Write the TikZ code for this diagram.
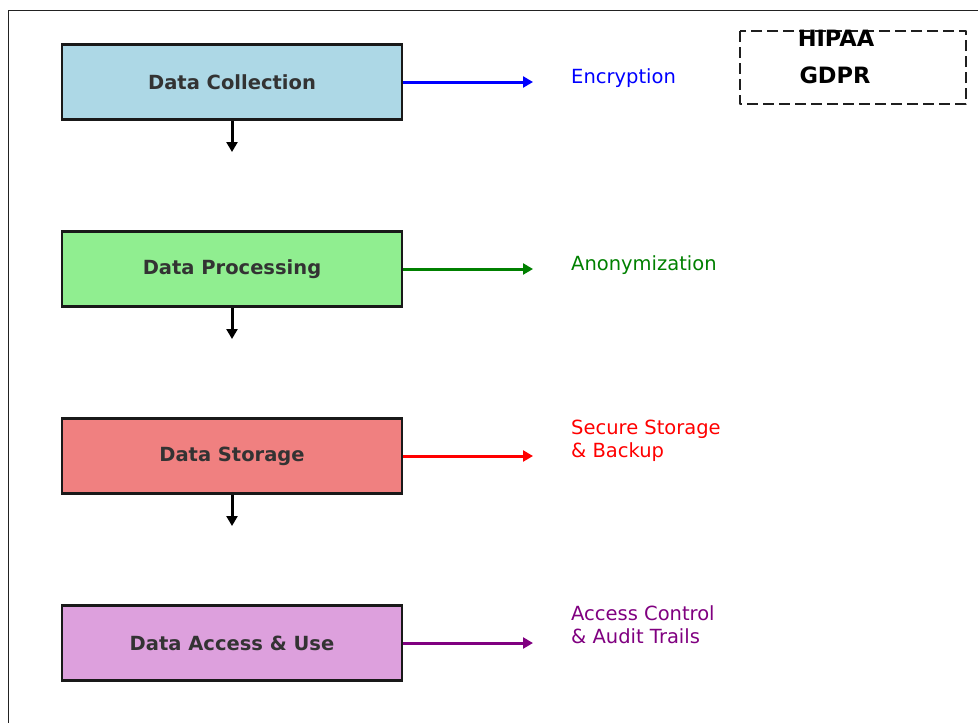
\documentclass[tikz,border=0pt]{standalone}
\usepackage{fontspec}
\setmainfont{DejaVu Sans}
\usetikzlibrary{arrows.meta}

\definecolor{boxtext}{HTML}{333333}
\definecolor{cBlue}{HTML}{ADD8E6}
\definecolor{cGreen}{HTML}{90EE90}
\definecolor{cCoral}{HTML}{F08080}
\definecolor{cPlum}{HTML}{DDA0DD}
\definecolor{tGreen}{HTML}{008000}
\definecolor{tPurple}{HTML}{800080}
\definecolor{frameline}{HTML}{222222}

\tikzset{
  stage/.style={draw=black!90, line width=2.8pt, minimum width=340pt, minimum height=75pt,
    inner sep=0pt, text=boxtext, font=\fontsize{19.5}{23}\selectfont\bfseries},
  flowarrow/.style={line width=3pt, -{Triangle[length=10pt,width=11pt]}},
  measure/.style={anchor=base west, inner sep=0pt, align=left,
    font=\fontsize{19.5}{23}\selectfont},
  law/.style={inner sep=0pt, font=\fontsize{22.5}{26}\selectfont\bfseries, text=black}
}

\begin{document}
\begin{tikzpicture}[x=1pt, y=-1pt]
\useasboundingbox (0,0) rectangle (978,723);
% outer frame (right and bottom edges lie past the page)
\draw[frameline, line width=1pt] (8,740) -- (8,10) -- (1000,10);

% lifecycle stages
\node[stage, fill=cBlue]  (s1) at (232,82)  {Data Collection};
\node[stage, fill=cGreen] (s2) at (232,269) {Data Processing};
\node[stage, fill=cCoral] (s3) at (232,456) {Data Storage};
\node[stage, fill=cPlum]  (s4) at (232,643) {Data Access \& Use};

% short downward arrows under the first three stages
\coordinate (d1) at (232,152);
\coordinate (d2) at (232,339);
\coordinate (d3) at (232,526);
\draw[flowarrow] (s1.south) -- (d1);
\draw[flowarrow] (s2.south) -- (d2);
\draw[flowarrow] (s3.south) -- (d3);

% arrows towards the safeguards
\coordinate (e1) at (533,82);
\coordinate (e2) at (533,269);
\coordinate (e3) at (533,456);
\coordinate (e4) at (533,643);
\draw[flowarrow, blue]    (s1.east) -- (e1);
\draw[flowarrow, tGreen]  (s2.east) -- (e2);
\draw[flowarrow, red]     (s3.east) -- (e3);
\draw[flowarrow, tPurple] (s4.east) -- (e4);

% safeguard labels (base = baseline of the last line)
\node[measure, text=blue]    (m1) at (571,83)  {Encryption};
\node[measure, text=tGreen]  (m2) at (571,270) {Anonymization};
\node[measure, text=red]     (m3) at (571,457) {Secure Storage\\\& Backup};
\node[measure, text=tPurple] (m4) at (571,643) {Access Control\\\& Audit Trails};

% regulations box
\draw[line width=2.6pt, black!88, dash pattern=on 11pt off 5pt, line join=round]
  (740,31) rectangle (966,104);
\node[law] (r1) at (836,38) {HIPAA};
\node[law] (r2) at (835,75) {GDPR};
\end{tikzpicture}
\end{document}
